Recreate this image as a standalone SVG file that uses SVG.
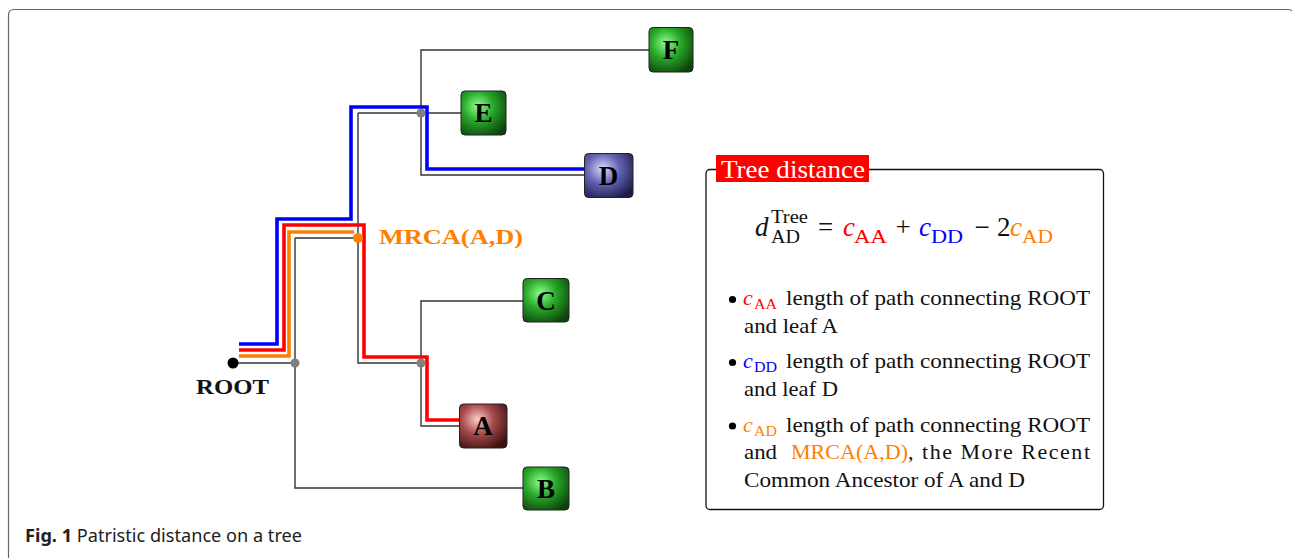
<svg xmlns="http://www.w3.org/2000/svg" width="1292" height="558" viewBox="0 0 1292 558">
<defs>
<radialGradient id="gG" cx="0.38" cy="0.35" r="0.75">
<stop offset="0" stop-color="#8cff8c"/>
<stop offset="0.45" stop-color="#2aa82a"/>
<stop offset="1" stop-color="#0c440c"/>
</radialGradient>
<radialGradient id="gB" cx="0.38" cy="0.35" r="0.75">
<stop offset="0" stop-color="#dcdcff"/>
<stop offset="0.45" stop-color="#6464b4"/>
<stop offset="1" stop-color="#1c1c48"/>
</radialGradient>
<radialGradient id="gR" cx="0.38" cy="0.35" r="0.75">
<stop offset="0" stop-color="#ffcccc"/>
<stop offset="0.45" stop-color="#a84a4a"/>
<stop offset="1" stop-color="#3c1010"/>
</radialGradient>
</defs>
<style>
.t{fill:none;stroke:#333;stroke-width:1.4}
.p{fill:none;stroke-width:3.6;stroke-linejoin:miter}
.box{stroke:#222;stroke-width:1}
.lbl{font-family:"Liberation Serif",serif;font-weight:bold;font-size:27px;fill:#000;text-anchor:middle}
.s{font-family:"Liberation Serif",serif;fill:#111}
.it{font-style:italic}
</style>
<rect width="1292" height="558" fill="#fff"/>
<path d="M8.5,600 V15 Q8.5,9.5 14,9.5 H1288 Q1294,9.5 1294,16 V600" fill="none" stroke="#666" stroke-width="1.2"/>

<g id="connectors">
<path class="t" d="M233,363 H295"/>
<path class="t" d="M295,238 V488 H523"/>
<path class="t" d="M295,238 H358"/>
<path class="t" d="M358,113 V363 H421"/>
<path class="t" d="M358,113 H461"/>
<path class="t" d="M649,50 H421 V175 H584"/>
<path class="t" d="M523,301 H421 V426 H459"/>
<path class="p" stroke="#0000ff" d="M239,344 H277 V219 H351 V107 H427 V169 H584"/>
<path class="p" stroke="#ff0000" d="M239,350 H284 V225 H364 V357 H427 V420 H459"/>
<path class="p" stroke="#ff8000" d="M239,356 H289 V232 H354"/>
</g>

<g id="dots">
<circle cx="295" cy="363" r="4.5" fill="#808080"/>
<circle cx="421" cy="113" r="4.5" fill="#808080"/>
<circle cx="421" cy="363" r="4.5" fill="#808080"/>
</g>
<g id="ROOT">
<circle cx="233" cy="363" r="5.5" fill="#000"/>
<text x="196" y="394" font-family="Liberation Serif,serif" font-weight="bold" font-size="20" textLength="73" lengthAdjust="spacingAndGlyphs" fill="#111">ROOT</text>
</g>
<g id="MRCA">
<circle cx="358" cy="238" r="5" fill="#ff8000"/>
<text x="379" y="244" font-family="Liberation Serif,serif" font-weight="bold" font-size="21" textLength="144" lengthAdjust="spacingAndGlyphs" fill="#ff8000">MRCA(A,D)</text>
</g>

<g id="nodeF"><rect class="box" x="649" y="27.5" width="44" height="44.5" rx="4" fill="url(#gG)"/><text class="lbl" x="671" y="59">F</text></g>
<g id="nodeE"><rect class="box" x="461" y="91" width="45" height="44" rx="4" fill="url(#gG)"/><text class="lbl" x="483.5" y="122">E</text></g>
<g id="nodeD"><rect class="box" x="584.5" y="153.5" width="48.5" height="44" rx="4" fill="url(#gB)"/><text class="lbl" x="608.5" y="185">D</text></g>
<g id="nodeC"><rect class="box" x="523" y="278.5" width="46" height="43.5" rx="4" fill="url(#gG)"/><text class="lbl" x="546" y="310">C</text></g>
<g id="nodeA"><rect class="box" x="459.5" y="404" width="47.5" height="44" rx="4" fill="url(#gR)"/><text class="lbl" x="483" y="435">A</text></g>
<g id="nodeB"><rect class="box" x="523" y="467" width="46" height="43" rx="4" fill="url(#gG)"/><text class="lbl" x="546" y="498">B</text></g>

<g id="legend">
<rect x="706" y="169.5" width="397.5" height="340" rx="4" fill="#fff" stroke="#111" stroke-width="1.3"/>
<rect x="716" y="155" width="153" height="27" fill="#ff0000"/>
<text x="721" y="178" class="s" font-size="26" style="fill:#fff" textLength="144" lengthAdjust="spacingAndGlyphs">Tree distance</text>

<text class="s it" x="755" y="236" font-size="27">d</text>
<text class="s" x="771" y="223" font-size="18" textLength="37" lengthAdjust="spacingAndGlyphs">Tree</text>
<text class="s" x="771" y="243" font-size="18" textLength="29" lengthAdjust="spacingAndGlyphs">AD</text>
<text class="s" x="825.5" y="236" font-size="27" text-anchor="middle">=</text>
<text class="s it" x="843" y="236" font-size="27" style="fill:#ff0000">c</text>
<text class="s" x="854" y="243" font-size="18" style="fill:#ff0000" textLength="33" lengthAdjust="spacingAndGlyphs">AA</text>
<text class="s" x="903" y="236" font-size="27" text-anchor="middle">+</text>
<text class="s it" x="919" y="236" font-size="27" style="fill:#0000ff">c</text>
<text class="s" x="931" y="243" font-size="18" style="fill:#0000ff" textLength="32" lengthAdjust="spacingAndGlyphs">DD</text>
<text class="s" x="982" y="236" font-size="27" text-anchor="middle">−</text>
<text class="s" x="997" y="236" font-size="27">2</text>
<text class="s it" x="1010" y="236" font-size="27" style="fill:#ff8000">c</text>
<text class="s" x="1022" y="243" font-size="18" style="fill:#ff8000" textLength="31" lengthAdjust="spacingAndGlyphs">AD</text>

<circle cx="732.5" cy="299.5" r="3.6" fill="#000"/>
<text class="s it" x="743" y="305" font-size="22" style="fill:#ff0000">c</text>
<text class="s" x="754" y="309" font-size="15" style="fill:#ff0000" textLength="23" lengthAdjust="spacingAndGlyphs">AA</text>
<text class="s" x="786" y="305" font-size="22" textLength="304" lengthAdjust="spacingAndGlyphs">length of path connecting ROOT</text>
<text class="s" x="744" y="333" font-size="22" textLength="94" lengthAdjust="spacingAndGlyphs">and leaf A</text>

<circle cx="732.5" cy="362.5" r="3.6" fill="#000"/>
<text class="s it" x="743" y="368" font-size="22" style="fill:#0000ff">c</text>
<text class="s" x="754" y="372" font-size="15" style="fill:#0000ff" textLength="23" lengthAdjust="spacingAndGlyphs">DD</text>
<text class="s" x="786" y="368" font-size="22" textLength="304" lengthAdjust="spacingAndGlyphs">length of path connecting ROOT</text>
<text class="s" x="744" y="396" font-size="22" textLength="94" lengthAdjust="spacingAndGlyphs">and leaf D</text>

<circle cx="732.5" cy="426" r="3.6" fill="#000"/>
<text class="s it" x="743" y="432" font-size="22" style="fill:#ff8000">c</text>
<text class="s" x="754" y="436" font-size="15" style="fill:#ff8000" textLength="23" lengthAdjust="spacingAndGlyphs">AD</text>
<text class="s" x="786" y="432" font-size="22" textLength="304" lengthAdjust="spacingAndGlyphs">length of path connecting ROOT</text>
<text class="s" x="744" y="459" font-size="22" textLength="33" lengthAdjust="spacingAndGlyphs">and</text>
<text class="s" x="791" y="459" font-size="22" style="fill:#ff8000" textLength="117" lengthAdjust="spacingAndGlyphs">MRCA(A,D)</text>
<text class="s" x="908" y="459" font-size="22" textLength="182" lengthAdjust="spacing">, the More Recent</text>
<text class="s" x="744" y="487" font-size="22" textLength="281" lengthAdjust="spacingAndGlyphs">Common Ancestor of A and D</text>
</g>

<g id="caption">
<text x="25" y="542" font-family="Noto Sans,Liberation Sans,sans-serif" font-size="17.5" fill="#222" textLength="277" lengthAdjust="spacingAndGlyphs"><tspan font-weight="bold">Fig. 1</tspan> Patristic distance on a tree</text>
</g>
</svg>
